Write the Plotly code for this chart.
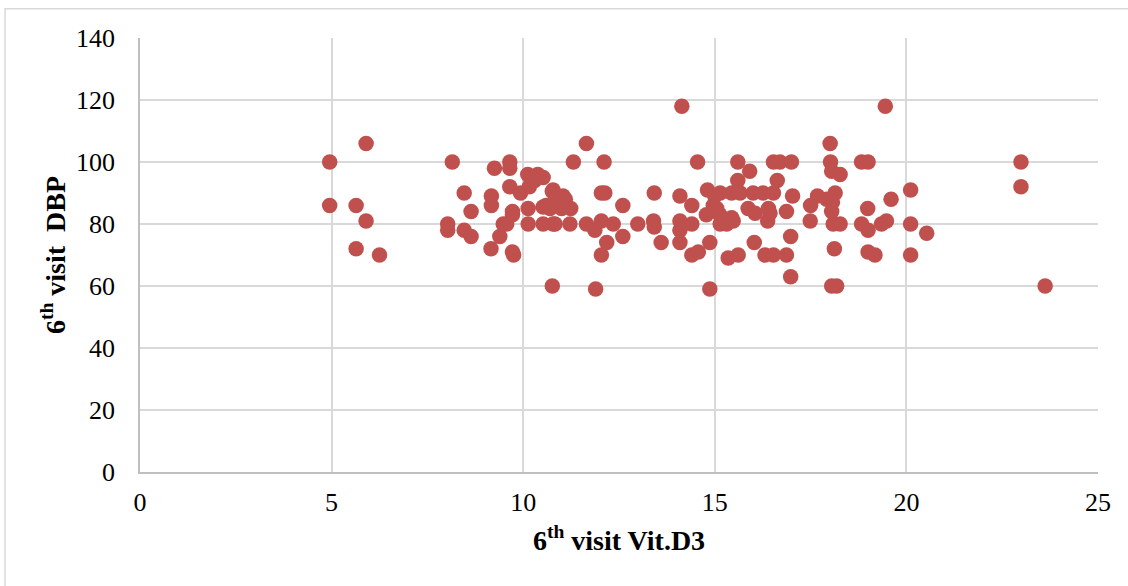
import plotly.graph_objects as go

vit_d3 = [4.95, 4.95, 5.64, 5.64, 5.9, 5.9, 6.25, 8.03, 8.03, 8.15, 8.46, 8.46, 8.64, 8.64,
          9.17, 9.17, 9.16, 9.25, 9.39, 9.48, 9.57, 9.65, 9.65, 9.65, 9.72, 9.72, 9.72, 9.75,
          9.93, 10.12, 10.16, 10.13, 10.13, 10.3, 10.38, 10.52, 10.52, 10.52, 10.6, 10.7, 10.76,
          10.78, 10.78, 10.76, 10.85, 10.83, 11.0, 11.04, 11.1, 11.22, 11.24, 11.31, 11.65, 11.65,
          11.87, 11.89, 12.04, 12.13, 12.04, 12.04, 12.11, 12.18, 12.35, 12.6, 12.6, 12.99, 13.42,
          13.4, 13.42, 13.6, 14.14, 14.09, 14.09, 14.09, 14.09, 14.4, 14.4, 14.4, 14.57, 14.55,
          14.81, 14.78, 14.87, 14.87, 14.96, 15.05, 15.0, 15.14, 15.13, 15.14, 15.31, 15.35, 15.44,
          15.44, 15.48, 15.6, 15.6, 15.61, 15.66, 15.87, 15.91, 16.0, 16.03, 16.05, 16.26, 16.31,
          16.38, 16.4, 16.44, 16.53, 16.53, 16.53, 16.63, 16.7, 16.87, 16.87, 17.0, 17.03, 16.98,
          16.98, 17.5, 17.49, 17.68, 17.92, 18.01, 18.02, 18.05, 18.07, 18.05, 18.14, 18.09, 18.12,
          18.05, 18.18, 18.27, 18.27, 18.83, 18.83, 19.0, 18.99, 19.0, 19.0, 19.18, 19.35, 19.48,
          19.45, 19.6, 20.11, 20.11, 20.11, 20.53, 22.99, 22.99, 23.62]

dbp = [100, 86, 86, 72, 106, 81, 70, 80, 78, 100, 90, 78, 84, 76,
       89, 86, 72, 98, 76, 80, 80, 100, 98, 92, 84, 83, 71, 70,
       90, 96, 92, 85, 80, 94, 96, 95, 85.5, 80, 86, 85, 90.5,
       91, 80, 60, 88, 80, 85, 89, 88, 80, 85, 100, 106, 80,
       78, 59, 90, 90, 81, 70, 100, 74, 80, 86, 76, 80, 90,
       81, 79, 74, 118, 89, 81, 78, 74, 86, 80, 70, 71, 100,
       91, 83, 74, 59, 86, 85, 89, 90, 83, 80, 80, 69, 90,
       82, 81, 100, 94, 70, 90, 85, 97, 90, 74, 83.5, 90, 70,
       81, 85, 83.5, 100, 90, 70, 94, 100, 84, 70, 100, 89, 76,
       63, 86, 81, 89, 88, 106, 100, 97, 87, 84, 90, 80, 72,
       60, 60, 96, 80, 100, 80, 100, 85, 78, 71, 70, 80, 81,
       118, 88, 91, 80, 70, 77, 100, 92, 60]

x_ticks = [0, 5, 10, 15, 20, 25]
y_ticks = [0, 20, 40, 60, 80, 100, 120, 140]

FONT = "Liberation Serif"
GRID = "#d9d9d9"

fig = go.Figure(go.Scatter(
    x=vit_d3, y=dbp, mode="markers",
    marker=dict(color="#C0504D", size=15.5, line=dict(width=0)),
    showlegend=False,
))

fig.update_layout(
    width=1128, height=586,
    margin=dict(l=140, r=30, t=38, b=114),
    paper_bgcolor="white", plot_bgcolor="white",
    font=dict(family=FONT, color="black", size=26),
    xaxis=dict(
        range=[0, 25], tickvals=x_ticks, ticks="", showgrid=True, gridcolor=GRID, gridwidth=1.5,
        zeroline=False, showline=True, linecolor="#bfbfbf", linewidth=1.5, automargin=False,
        tickfont=dict(size=26, family=FONT), ticklabelstandoff=6,
        title=dict(text="<b>6<sup>th</sup> visit Vit.D3</b>", font=dict(size=28, family=FONT), standoff=14),
    ),
    yaxis=dict(
        range=[0, 140], tickvals=y_ticks, ticks="", showgrid=True, gridcolor=GRID, gridwidth=1.5,
        zeroline=False, showline=True, linecolor="#bfbfbf", linewidth=1.5, automargin=False,
        tickfont=dict(size=26, family=FONT), ticklabelstandoff=18,
        title=dict(text="<b>6<sup>th</sup> visit  DBP</b>", font=dict(size=28, family=FONT), standoff=2),
    ),
    shapes=[dict(type="rect", xref="paper", yref="paper",
                 x0=-0.1409, x1=1.04, y0=-0.3, y1=1.0675,
                 line=dict(color="#d9d9d9", width=1.5), fillcolor="rgba(0,0,0,0)", layer="below")],
)

fig.write_html("out.html", post_script="document.body.style.margin='0';",
               config={"displayModeBar": False})
